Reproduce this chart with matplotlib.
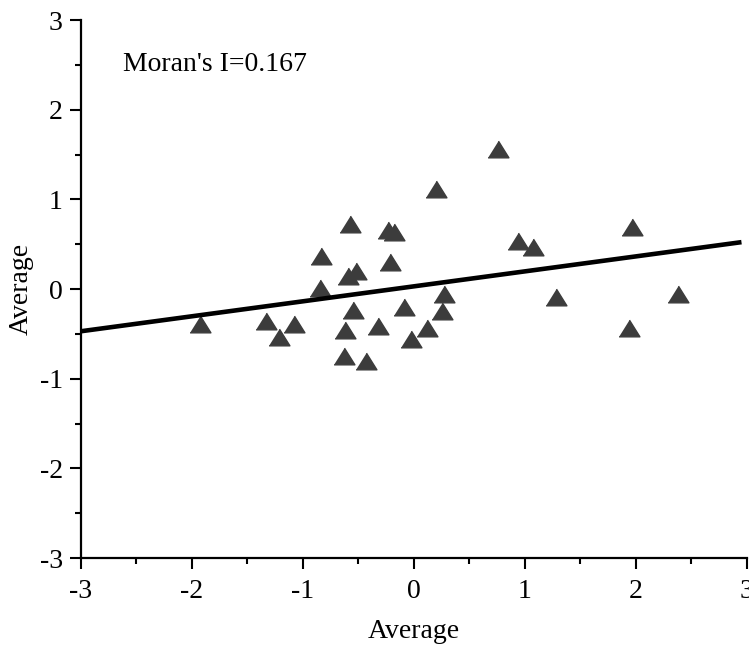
import numpy as np
import matplotlib.pyplot as plt
from matplotlib.ticker import MultipleLocator

plt.rcParams['font.family'] = ['Liberation Serif', 'DejaVu Serif']
plt.rcParams['axes.unicode_minus'] = False

# values
x_vals = [-1.93, -1.33, -1.22, -1.08, -0.85, -0.84, -0.62, -0.63, -0.59, -0.58,
          -0.55, -0.52, -0.43, -0.32, -0.23, -0.22, -0.18, -0.09, -0.03, 0.12,
          0.20, 0.25, 0.27, 0.76, 0.94, 1.07, 1.28, 1.94, 1.96, 2.38]
y_vals = [-0.39, -0.36, -0.54, -0.39, 0.01, 0.37, -0.46, -0.75, 0.14, 0.72,
          -0.23, 0.20, -0.80, -0.41, 0.66, 0.30, 0.64, -0.20, -0.56, -0.43,
          1.11, -0.24, -0.05, 1.56, 0.53, 0.47, -0.09, -0.44, 0.69, -0.06]

slope = 0.167
intercept = 0.03
fit_x = np.array([-3.0, 2.93])

fig = plt.figure(figsize=(7.49, 6.46), dpi=100)
ax = fig.add_axes([0.1081, 0.1362, 0.8892, 0.8328])

tri = [(-1, -0.8), (1, -0.8), (0, 0.8)]
ax.plot(x_vals, y_vals, linestyle='none', marker=tri, markersize=15,
        color='#3c3c3c', zorder=2)
ax.plot(fit_x, slope * fit_x + intercept, color='black', lw=3.3, zorder=3)

ax.text(-2.62, 2.5, "Moran's I=0.167", fontsize=20, va='center', ha='left')

ax.set_xlim(-3, 3)
ax.set_ylim(-3, 3)
ax.xaxis.set_major_locator(MultipleLocator(1))
ax.yaxis.set_major_locator(MultipleLocator(1))
ax.xaxis.set_minor_locator(MultipleLocator(0.5))
ax.yaxis.set_minor_locator(MultipleLocator(0.5))

ax.spines['top'].set_visible(False)
ax.spines['right'].set_visible(False)
for s in ['left', 'bottom']:
    ax.spines[s].set_linewidth(1.6)

ax.tick_params(which='major', direction='out', length=8, width=1.5, labelsize=20)
ax.tick_params(which='minor', direction='out', length=4, width=1.5)
ax.tick_params(axis='x', which='major', pad=7)
ax.tick_params(axis='y', which='major', pad=5)

ax.set_xlabel('Average', fontsize=20, labelpad=11)
ax.set_ylabel('Average', fontsize=20, labelpad=4)

fig.savefig('out.png', dpi=100)
